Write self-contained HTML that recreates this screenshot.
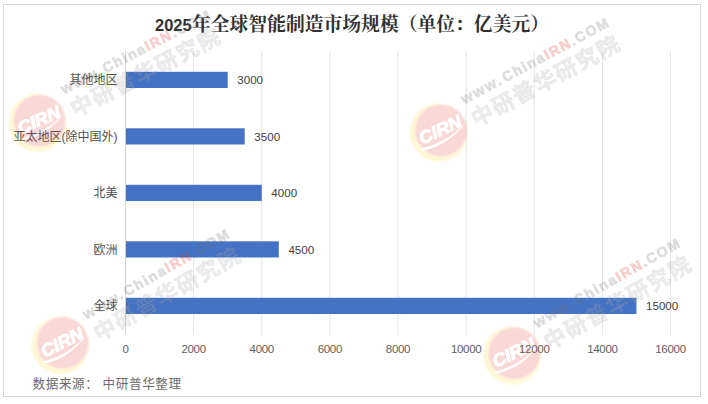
<!DOCTYPE html>
<html><head><meta charset="utf-8"><title>chart</title>
<style>
html,body{margin:0;padding:0;background:#fff;}
body{width:708px;height:404px;overflow:hidden;font-family:"Liberation Sans",sans-serif;}
svg{display:block;position:absolute;left:0;top:0;}
svg text{font-family:"Liberation Sans",sans-serif;}
</style></head><body>
<svg width="708" height="404" viewBox="0 0 708 404">
<defs>
<radialGradient id="gr" cx="0.5" cy="0.5" r="0.5"><stop offset="0" stop-color="#e03636"/><stop offset="0.9" stop-color="#e23c3c"/><stop offset="1" stop-color="#ec6a44" stop-opacity="0.15"/></radialGradient>
<filter id="bl" x="-20%" y="-20%" width="140%" height="140%"><feGaussianBlur stdDeviation="1.1"/></filter>
<mask id="mk" maskUnits="userSpaceOnUse" x="-40" y="-40" width="80" height="80"><rect x="-40" y="-40" width="80" height="80" fill="#fff"/><g transform="rotate(-25)" fill="#000" stroke="#000"><text x="-20.5" y="4.6" font-size="17.5" font-weight="bold" font-style="italic" stroke-width="1.1" textLength="45" lengthAdjust="spacingAndGlyphs">CIRN</text><path d="M-24 7.2 Q 2 13.5 29 2.5 Q 2 16.5 -23 10 Z" stroke="none"/></g></mask>
<g id="lg" mask="url(#mk)"><path fill-rule="evenodd" fill="#ffd840" opacity="0.23" filter="url(#bl)" d="M-29 0.5A29 29 0 1 0 29 0.5A29 29 0 1 0 -29 0.5ZM-24 -1.5A26 26 0 1 0 28 -1.5A26 26 0 1 0 -24 -1.5Z"/><circle cx="2" cy="-1.5" r="27" fill="url(#gr)" opacity="0.2"/></g>
<g id="tx" transform="rotate(-28.3)" opacity="0.24">
<g font-weight="bold" fill="#707070" stroke="#707070" stroke-width="0.7"><text x="34" y="-9.5" font-size="14.6" letter-spacing="2.0">www.</text><text x="80.6" y="-9.5" font-size="14" letter-spacing="1.75">China<tspan fill="#e03030" stroke="#e03030">IRN</tspan>.COM</text></g>
<text x="33.8" y="16.1" font-size="22" font-weight="bold" fill="#b4b4b4" stroke="#606060" stroke-width="0.31" letter-spacing="1.8" style="font-family:'Liberation Sans','Noto Sans CJK SC',sans-serif;">中研普华研究院</text>
</g>
</defs>
<rect x="0" y="0" width="708" height="404" fill="#fff"/>
<rect x="3.5" y="4.5" width="697" height="392" fill="#fff" stroke="#d6d6d6" stroke-width="1"/>
<line x1="193.62" y1="51.2" x2="193.62" y2="335.0" stroke="#e3e3e3" stroke-width="1"/>
<line x1="261.75" y1="51.2" x2="261.75" y2="335.0" stroke="#e3e3e3" stroke-width="1"/>
<line x1="329.88" y1="51.2" x2="329.88" y2="335.0" stroke="#e3e3e3" stroke-width="1"/>
<line x1="398.00" y1="51.2" x2="398.00" y2="335.0" stroke="#e3e3e3" stroke-width="1"/>
<line x1="466.12" y1="51.2" x2="466.12" y2="335.0" stroke="#e3e3e3" stroke-width="1"/>
<line x1="534.25" y1="51.2" x2="534.25" y2="335.0" stroke="#e3e3e3" stroke-width="1"/>
<line x1="602.38" y1="51.2" x2="602.38" y2="335.0" stroke="#e3e3e3" stroke-width="1"/>
<line x1="670.50" y1="51.2" x2="670.50" y2="335.0" stroke="#e3e3e3" stroke-width="1"/>
<line x1="125.50" y1="51.2" x2="125.50" y2="335.0" stroke="#d0d0d0" stroke-width="1"/>
<rect x="126.00" y="71.80" width="101.69" height="16.2" fill="#4472c4"/>
<text x="237.29" y="84.20" font-size="11.6" fill="#404040">3000</text>
<text x="117.6" y="84.1" font-size="12" fill="#505050" text-anchor="end" style="font-family:'Liberation Sans','Noto Sans CJK SC',sans-serif;">其他地区</text>
<rect x="126.00" y="128.30" width="118.72" height="16.2" fill="#4472c4"/>
<text x="254.32" y="140.70" font-size="11.6" fill="#404040">3500</text>
<text x="117.4" y="140.6" font-size="12" fill="#505050" text-anchor="end" style="font-family:'Liberation Sans','Noto Sans CJK SC',sans-serif;">亚太地区(除中国外)</text>
<rect x="126.00" y="184.80" width="135.75" height="16.2" fill="#4472c4"/>
<text x="271.35" y="197.20" font-size="11.6" fill="#404040">4000</text>
<text x="117.6" y="197.1" font-size="12" fill="#505050" text-anchor="end" style="font-family:'Liberation Sans','Noto Sans CJK SC',sans-serif;">北美</text>
<rect x="126.00" y="241.30" width="152.78" height="16.2" fill="#4472c4"/>
<text x="288.38" y="253.70" font-size="11.6" fill="#404040">4500</text>
<text x="117.6" y="253.6" font-size="12" fill="#505050" text-anchor="end" style="font-family:'Liberation Sans','Noto Sans CJK SC',sans-serif;">欧洲</text>
<rect x="126.00" y="297.80" width="510.44" height="16.2" fill="#4472c4"/>
<text x="646.04" y="310.20" font-size="11.6" fill="#404040">15000</text>
<text x="117.6" y="310.1" font-size="12" fill="#505050" text-anchor="end" style="font-family:'Liberation Sans','Noto Sans CJK SC',sans-serif;">全球</text>
<text x="125.50" y="352.5" font-size="11.5" fill="#606060" text-anchor="middle" letter-spacing="-0.3">0</text>
<text x="193.62" y="352.5" font-size="11.5" fill="#606060" text-anchor="middle" letter-spacing="-0.3">2000</text>
<text x="261.75" y="352.5" font-size="11.5" fill="#606060" text-anchor="middle" letter-spacing="-0.3">4000</text>
<text x="329.88" y="352.5" font-size="11.5" fill="#606060" text-anchor="middle" letter-spacing="-0.3">6000</text>
<text x="398.00" y="352.5" font-size="11.5" fill="#606060" text-anchor="middle" letter-spacing="-0.3">8000</text>
<text x="466.12" y="352.5" font-size="11.5" fill="#606060" text-anchor="middle" letter-spacing="-0.3">10000</text>
<text x="534.25" y="352.5" font-size="11.5" fill="#606060" text-anchor="middle" letter-spacing="-0.3">12000</text>
<text x="602.38" y="352.5" font-size="11.5" fill="#606060" text-anchor="middle" letter-spacing="-0.3">14000</text>
<text x="670.50" y="352.5" font-size="11.5" fill="#606060" text-anchor="middle" letter-spacing="-0.3">16000</text>
<text x="155" y="31" font-size="16.2" font-weight="bold" fill="#303030" textLength="36.6" lengthAdjust="spacingAndGlyphs">2025</text>
<text x="192" y="31.3" font-size="18.8" font-weight="bold" fill="#303030" textLength="357" lengthAdjust="spacing" style="font-family:'Liberation Serif','Noto Serif CJK SC',serif;">年全球智能制造市场规模（单位：亿美元）</text>
<text x="32.5" y="388.3" font-size="12.6" fill="#6a6a6a" letter-spacing="0.6" style="font-family:'Liberation Sans','Noto Sans CJK SC',sans-serif;">数据来源： 中研普华整理</text>
<use href="#lg" transform="translate(37.6 122.2) rotate(1)"/>
<use href="#tx" transform="translate(38.2 118.6) rotate(1)"/>
<use href="#lg" transform="translate(439.0 131.9) rotate(0)"/>
<use href="#tx" transform="translate(438.8 129.0) rotate(0)"/>
<use href="#lg" transform="translate(60.7 344.4) rotate(-1.5)"/>
<use href="#tx" transform="translate(61.8 344.8) rotate(-1.5)"/>
<use href="#lg" transform="translate(512.4 354.7) rotate(-1.2)"/>
<use href="#tx" transform="translate(512.0 353.2) rotate(-1.2)"/>
</svg>
</body></html>
